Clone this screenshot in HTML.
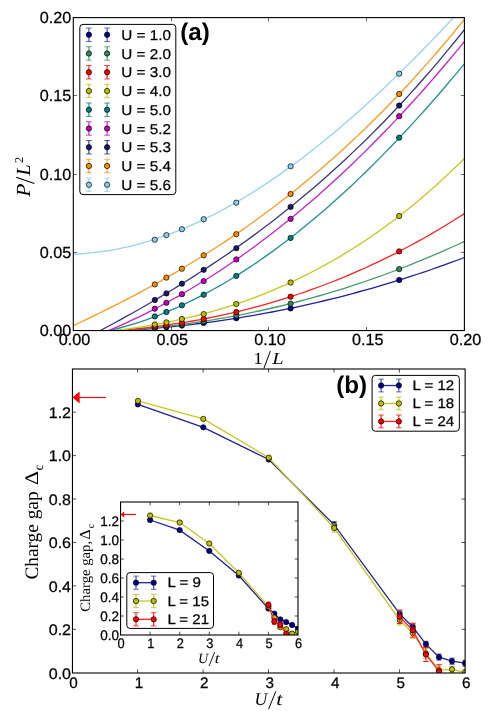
<!DOCTYPE html>
<html><head><meta charset="utf-8"><title>chart</title>
<style>html,body{margin:0;padding:0;background:#fff;}svg{display:block;position:absolute;left:0;top:0;will-change:transform;}</style></head>
<body>
<svg width="491" height="711" viewBox="0 0 491 711" text-rendering="geometricPrecision" font-family="'Liberation Sans', sans-serif" fill="#000">
<rect x="0" y="0" width="491" height="711" fill="#fff"/>
<defs>
<clipPath id="ct"><rect x="73.3" y="17.6" width="391.10" height="312.95"/></clipPath>
<clipPath id="cb"><rect x="72.45" y="369.0" width="392.68" height="304.00"/></clipPath>
<clipPath id="ci"><rect x="120.55" y="502.0" width="177.45" height="133.00"/></clipPath>
</defs>
<g clip-path="url(#ct)" fill="none" stroke-width="1.3">
<polyline points="73.3,332.7 79.9,332.6 86.6,332.4 93.2,332.1 99.8,331.9 106.4,331.6 113.1,331.2 119.7,330.9 126.3,330.5 133.0,330.0 139.6,329.5 146.2,329.0 152.8,328.5 159.5,327.9 166.1,327.2 172.7,326.6 179.4,325.9 186.0,325.1 192.6,324.3 199.2,323.5 205.9,322.7 212.5,321.8 219.1,320.8 225.8,319.9 232.4,318.9 239.0,317.8 245.6,316.7 252.3,315.6 258.9,314.4 265.5,313.2 272.2,312.0 278.8,310.7 285.4,309.4 292.1,308.0 298.7,306.6 305.3,305.1 311.9,303.6 318.6,302.1 325.2,300.5 331.8,298.9 338.5,297.3 345.1,295.6 351.7,293.8 358.3,292.0 365.0,290.2 371.6,288.3 378.2,286.4 384.9,284.4 391.5,282.4 398.1,280.4 404.7,278.3 411.4,276.2 418.0,274.0 424.6,271.8 431.3,269.5 437.9,267.2 444.5,264.8 451.1,262.4 457.8,260.0 464.4,257.5" stroke="#21219a"/>
<polyline points="73.3,332.8 79.9,332.7 86.6,332.4 93.2,332.2 99.8,331.9 106.4,331.5 113.1,331.1 119.7,330.7 126.3,330.2 133.0,329.7 139.6,329.1 146.2,328.5 152.8,327.9 159.5,327.1 166.1,326.4 172.7,325.6 179.4,324.8 186.0,323.9 192.6,322.9 199.2,322.0 205.9,320.9 212.5,319.9 219.1,318.7 225.8,317.6 232.4,316.4 239.0,315.1 245.6,313.8 252.3,312.4 258.9,311.0 265.5,309.5 272.2,308.0 278.8,306.5 285.4,304.9 292.1,303.2 298.7,301.5 305.3,299.7 311.9,297.9 318.6,296.0 325.2,294.1 331.8,292.1 338.5,290.1 345.1,288.1 351.7,285.9 358.3,283.7 365.0,281.5 371.6,279.2 378.2,276.9 384.9,274.5 391.5,272.0 398.1,269.5 404.7,267.0 411.4,264.3 418.0,261.7 424.6,258.9 431.3,256.2 437.9,253.3 444.5,250.4 451.1,247.5 457.8,244.5 464.4,241.4" stroke="#499a6c"/>
<polyline points="73.3,333.1 79.9,332.9 86.6,332.6 93.2,332.3 99.8,331.9 106.4,331.4 113.1,331.0 119.7,330.4 126.3,329.8 133.0,329.2 139.6,328.5 146.2,327.8 152.8,327.0 159.5,326.1 166.1,325.2 172.7,324.2 179.4,323.2 186.0,322.1 192.6,321.0 199.2,319.8 205.9,318.5 212.5,317.2 219.1,315.8 225.8,314.4 232.4,312.9 239.0,311.3 245.6,309.6 252.3,307.9 258.9,306.2 265.5,304.3 272.2,302.4 278.8,300.4 285.4,298.4 292.1,296.2 298.7,294.0 305.3,291.8 311.9,289.4 318.6,287.0 325.2,284.5 331.8,282.0 338.5,279.3 345.1,276.6 351.7,273.8 358.3,270.9 365.0,268.0 371.6,264.9 378.2,261.8 384.9,258.6 391.5,255.3 398.1,252.0 404.7,248.5 411.4,245.0 418.0,241.4 424.6,237.7 431.3,233.9 437.9,230.0 444.5,226.0 451.1,222.0 457.8,217.8 464.4,213.6" stroke="#ff2121"/>
<polyline points="73.3,334.4 79.9,333.9 86.6,333.4 93.2,332.8 99.8,332.2 106.4,331.5 113.1,330.8 119.7,330.0 126.3,329.1 133.0,328.2 139.6,327.2 146.2,326.1 152.8,325.0 159.5,323.8 166.1,322.5 172.7,321.2 179.4,319.7 186.0,318.2 192.6,316.6 199.2,315.0 205.9,313.2 212.5,311.4 219.1,309.4 225.8,307.4 232.4,305.3 239.0,303.1 245.6,300.8 252.3,298.4 258.9,295.9 265.5,293.3 272.2,290.6 278.8,287.7 285.4,284.8 292.1,281.8 298.7,278.7 305.3,275.4 311.9,272.0 318.6,268.5 325.2,264.9 331.8,261.2 338.5,257.4 345.1,253.4 351.7,249.3 358.3,245.1 365.0,240.7 371.6,236.2 378.2,231.6 384.9,226.8 391.5,221.9 398.1,216.9 404.7,211.7 411.4,206.4 418.0,201.0 424.6,195.3 431.3,189.6 437.9,183.7 444.5,177.6 451.1,171.4 457.8,165.0 464.4,158.5" stroke="#c7c721"/>
<polyline points="73.3,337.0 79.9,336.1 86.6,335.1 93.2,334.0 99.8,332.7 106.4,331.3 113.1,329.7 119.7,328.0 126.3,326.2 133.0,324.2 139.6,322.1 146.2,319.8 152.8,317.4 159.5,314.9 166.1,312.2 172.7,309.4 179.4,306.5 186.0,303.4 192.6,300.2 199.2,296.9 205.9,293.4 212.5,289.8 219.1,286.1 225.8,282.2 232.4,278.2 239.0,274.1 245.6,269.9 252.3,265.5 258.9,261.0 265.5,256.4 272.2,251.6 278.8,246.8 285.4,241.8 292.1,236.7 298.7,231.5 305.3,226.1 311.9,220.6 318.6,215.1 325.2,209.4 331.8,203.5 338.5,197.6 345.1,191.5 351.7,185.4 358.3,179.1 365.0,172.7 371.6,166.2 378.2,159.6 384.9,152.9 391.5,146.0 398.1,139.1 404.7,132.0 411.4,124.9 418.0,117.6 424.6,110.2 431.3,102.8 437.9,95.2 444.5,87.5 451.1,79.7 457.8,71.8 464.4,63.8" stroke="#219090"/>
<polyline points="73.3,344.2 79.9,341.9 86.6,339.4 93.2,336.9 99.8,334.3 106.4,331.5 113.1,328.7 119.7,325.8 126.3,322.8 133.0,319.7 139.6,316.6 146.2,313.3 152.8,309.9 159.5,306.5 166.1,302.9 172.7,299.3 179.4,295.6 186.0,291.7 192.6,287.8 199.2,283.8 205.9,279.7 212.5,275.5 219.1,271.2 225.8,266.8 232.4,262.3 239.0,257.7 245.6,253.0 252.3,248.2 258.9,243.3 265.5,238.3 272.2,233.2 278.8,228.1 285.4,222.8 292.1,217.4 298.7,211.9 305.3,206.3 311.9,200.7 318.6,194.9 325.2,189.0 331.8,183.0 338.5,176.9 345.1,170.8 351.7,164.5 358.3,158.1 365.0,151.6 371.6,145.0 378.2,138.3 384.9,131.5 391.5,124.6 398.1,117.6 404.7,110.5 411.4,103.2 418.0,95.9 424.6,88.5 431.3,80.9 437.9,73.3 444.5,65.5 451.1,57.7 457.8,49.7 464.4,41.6" stroke="#c721c7"/>
<polyline points="73.3,344.7 79.9,341.3 86.6,337.8 93.2,334.3 99.8,330.8 106.4,327.3 113.1,323.7 119.7,320.1 126.3,316.4 133.0,312.7 139.6,309.0 146.2,305.2 152.8,301.3 159.5,297.4 166.1,293.5 172.7,289.5 179.4,285.4 186.0,281.3 192.6,277.1 199.2,272.8 205.9,268.5 212.5,264.1 219.1,259.7 225.8,255.2 232.4,250.6 239.0,245.9 245.6,241.2 252.3,236.4 258.9,231.5 265.5,226.5 272.2,221.4 278.8,216.3 285.4,211.0 292.1,205.7 298.7,200.3 305.3,194.8 311.9,189.2 318.6,183.5 325.2,177.7 331.8,171.8 338.5,165.8 345.1,159.7 351.7,153.4 358.3,147.1 365.0,140.7 371.6,134.1 378.2,127.5 384.9,120.7 391.5,113.8 398.1,106.8 404.7,99.7 411.4,92.4 418.0,85.0 424.6,77.5 431.3,69.9 437.9,62.1 444.5,54.2 451.1,46.1 457.8,38.0 464.4,29.6" stroke="#363682"/>
<polyline points="73.3,325.6 79.9,322.5 86.6,319.4 93.2,316.2 99.8,313.0 106.4,309.7 113.1,306.4 119.7,303.0 126.3,299.6 133.0,296.1 139.6,292.6 146.2,289.0 152.8,285.4 159.5,281.7 166.1,277.9 172.7,274.1 179.4,270.2 186.0,266.3 192.6,262.3 199.2,258.2 205.9,254.0 212.5,249.8 219.1,245.5 225.8,241.1 232.4,236.6 239.0,232.1 245.6,227.5 252.3,222.8 258.9,218.0 265.5,213.1 272.2,208.2 278.8,203.1 285.4,198.0 292.1,192.8 298.7,187.4 305.3,182.0 311.9,176.5 318.6,170.9 325.2,165.2 331.8,159.4 338.5,153.4 345.1,147.4 351.7,141.3 358.3,135.1 365.0,128.7 371.6,122.3 378.2,115.7 384.9,109.0 391.5,102.2 398.1,95.3 404.7,88.3 411.4,81.1 418.0,73.8 424.6,66.4 431.3,58.9 437.9,51.3 444.5,43.5 451.1,35.6 457.8,27.5 464.4,19.3" stroke="#ff9a21"/>
<polyline points="73.3,254.2 79.9,253.8 86.6,253.4 93.2,252.7 99.8,251.9 106.4,251.0 113.1,249.9 119.7,248.6 126.3,247.2 133.0,245.6 139.6,243.8 146.2,242.0 152.8,239.9 159.5,237.7 166.1,235.4 172.7,232.9 179.4,230.3 186.0,227.6 192.6,224.7 199.2,221.6 205.9,218.5 212.5,215.2 219.1,211.7 225.8,208.1 232.4,204.5 239.0,200.6 245.6,196.7 252.3,192.6 258.9,188.4 265.5,184.1 272.2,179.6 278.8,175.1 285.4,170.4 292.1,165.6 298.7,160.7 305.3,155.7 311.9,150.5 318.6,145.3 325.2,140.0 331.8,134.5 338.5,128.9 345.1,123.3 351.7,117.5 358.3,111.7 365.0,105.7 371.6,99.7 378.2,93.5 384.9,87.3 391.5,80.9 398.1,74.5 404.7,68.0 411.4,61.4 418.0,54.7 424.6,48.0 431.3,41.1 437.9,34.2 444.5,27.2 451.1,20.1 457.8,13.0 464.4,5.8" stroke="#96d4ed"/>
</g>
<g stroke="#000" stroke-width="0.7">
<circle cx="154.8" cy="328.2" r="2.65" fill="#00008b"/>
<circle cx="166.4" cy="327.3" r="2.65" fill="#00008b"/>
<circle cx="181.9" cy="325.6" r="2.65" fill="#00008b"/>
<circle cx="203.7" cy="322.9" r="2.65" fill="#00008b"/>
<circle cx="236.3" cy="318.2" r="2.65" fill="#00008b"/>
<circle cx="290.6" cy="308.4" r="2.65" fill="#00008b"/>
<circle cx="399.2" cy="280.0" r="2.65" fill="#00008b"/>
<circle cx="154.8" cy="327.6" r="2.65" fill="#2e8b57"/>
<circle cx="166.4" cy="326.3" r="2.65" fill="#2e8b57"/>
<circle cx="181.9" cy="324.5" r="2.65" fill="#2e8b57"/>
<circle cx="203.7" cy="321.4" r="2.65" fill="#2e8b57"/>
<circle cx="236.3" cy="315.5" r="2.65" fill="#2e8b57"/>
<circle cx="290.6" cy="303.6" r="2.65" fill="#2e8b57"/>
<circle cx="399.2" cy="269.1" r="2.65" fill="#2e8b57"/>
<circle cx="154.8" cy="326.6" r="2.65" fill="#ff0000"/>
<circle cx="166.4" cy="325.2" r="2.65" fill="#ff0000"/>
<circle cx="181.9" cy="322.8" r="2.65" fill="#ff0000"/>
<circle cx="203.7" cy="319.0" r="2.65" fill="#ff0000"/>
<circle cx="236.3" cy="312.0" r="2.65" fill="#ff0000"/>
<circle cx="290.6" cy="296.7" r="2.65" fill="#ff0000"/>
<circle cx="399.2" cy="251.4" r="2.65" fill="#ff0000"/>
<circle cx="154.8" cy="324.5" r="2.65" fill="#bfbf00"/>
<circle cx="166.4" cy="322.4" r="2.65" fill="#bfbf00"/>
<circle cx="181.9" cy="319.0" r="2.65" fill="#bfbf00"/>
<circle cx="203.7" cy="314.1" r="2.65" fill="#bfbf00"/>
<circle cx="236.3" cy="304.0" r="2.65" fill="#bfbf00"/>
<circle cx="290.6" cy="282.5" r="2.65" fill="#bfbf00"/>
<circle cx="399.2" cy="216.0" r="2.65" fill="#bfbf00"/>
<circle cx="154.8" cy="316.4" r="2.65" fill="#008080"/>
<circle cx="166.4" cy="312.0" r="2.65" fill="#008080"/>
<circle cx="181.9" cy="305.3" r="2.65" fill="#008080"/>
<circle cx="203.7" cy="294.7" r="2.65" fill="#008080"/>
<circle cx="236.3" cy="275.9" r="2.65" fill="#008080"/>
<circle cx="290.6" cy="238.0" r="2.65" fill="#008080"/>
<circle cx="399.2" cy="137.7" r="2.65" fill="#008080"/>
<circle cx="154.8" cy="308.7" r="2.65" fill="#bf00bf"/>
<circle cx="166.4" cy="302.8" r="2.65" fill="#bf00bf"/>
<circle cx="181.9" cy="294.2" r="2.65" fill="#bf00bf"/>
<circle cx="203.7" cy="281.1" r="2.65" fill="#bf00bf"/>
<circle cx="236.3" cy="259.4" r="2.65" fill="#bf00bf"/>
<circle cx="290.6" cy="218.9" r="2.65" fill="#bf00bf"/>
<circle cx="399.2" cy="116.2" r="2.65" fill="#bf00bf"/>
<circle cx="154.8" cy="300.0" r="2.65" fill="#191970"/>
<circle cx="166.4" cy="293.4" r="2.65" fill="#191970"/>
<circle cx="181.9" cy="283.7" r="2.65" fill="#191970"/>
<circle cx="203.7" cy="269.8" r="2.65" fill="#191970"/>
<circle cx="236.3" cy="248.2" r="2.65" fill="#191970"/>
<circle cx="290.6" cy="206.9" r="2.65" fill="#191970"/>
<circle cx="399.2" cy="105.5" r="2.65" fill="#191970"/>
<circle cx="154.8" cy="284.4" r="2.65" fill="#ff8c00"/>
<circle cx="166.4" cy="277.6" r="2.65" fill="#ff8c00"/>
<circle cx="181.9" cy="268.7" r="2.65" fill="#ff8c00"/>
<circle cx="203.7" cy="255.3" r="2.65" fill="#ff8c00"/>
<circle cx="236.3" cy="234.2" r="2.65" fill="#ff8c00"/>
<circle cx="290.6" cy="194.0" r="2.65" fill="#ff8c00"/>
<circle cx="399.2" cy="94.0" r="2.65" fill="#ff8c00"/>
<circle cx="154.8" cy="239.7" r="2.65" fill="#87ceeb"/>
<circle cx="166.4" cy="235.1" r="2.65" fill="#87ceeb"/>
<circle cx="181.9" cy="229.2" r="2.65" fill="#87ceeb"/>
<circle cx="203.7" cy="219.2" r="2.65" fill="#87ceeb"/>
<circle cx="236.3" cy="202.7" r="2.65" fill="#87ceeb"/>
<circle cx="290.6" cy="166.3" r="2.65" fill="#87ceeb"/>
<circle cx="399.2" cy="73.7" r="2.65" fill="#87ceeb"/>
</g>
<g stroke="#000" fill="none">
<path d="M171.50,330.55v-3.6M171.50,17.6v3.6M268.50,330.55v-3.6M268.50,17.6v3.6M366.50,330.55v-3.6M366.50,17.6v3.6M73.3,252.50h3.6M464.4,252.50h-3.6M73.3,174.50h3.6M464.4,174.50h-3.6M73.3,95.50h3.6M464.4,95.50h-3.6" stroke-width="0.6"/>
<rect x="73.3" y="17.6" width="391.10" height="312.95" stroke-width="1.1"/>
</g>
<text x="74.50" y="345.30" font-size="16.0" text-anchor="middle" textLength="31.55" lengthAdjust="spacingAndGlyphs" stroke="#000" stroke-width="0.25">0.00</text>
<text x="71.30" y="336.10" font-size="16.0" text-anchor="end" textLength="31.55" lengthAdjust="spacingAndGlyphs" stroke="#000" stroke-width="0.25">0.00</text>
<text x="172.27" y="345.30" font-size="16.0" text-anchor="middle" textLength="31.55" lengthAdjust="spacingAndGlyphs" stroke="#000" stroke-width="0.25">0.05</text>
<text x="71.30" y="257.86" font-size="16.0" text-anchor="end" textLength="31.55" lengthAdjust="spacingAndGlyphs" stroke="#000" stroke-width="0.25">0.05</text>
<text x="270.05" y="345.30" font-size="16.0" text-anchor="middle" textLength="31.55" lengthAdjust="spacingAndGlyphs" stroke="#000" stroke-width="0.25">0.10</text>
<text x="71.30" y="179.63" font-size="16.0" text-anchor="end" textLength="31.55" lengthAdjust="spacingAndGlyphs" stroke="#000" stroke-width="0.25">0.10</text>
<text x="367.82" y="345.30" font-size="16.0" text-anchor="middle" textLength="31.55" lengthAdjust="spacingAndGlyphs" stroke="#000" stroke-width="0.25">0.15</text>
<text x="71.30" y="101.39" font-size="16.0" text-anchor="end" textLength="31.55" lengthAdjust="spacingAndGlyphs" stroke="#000" stroke-width="0.25">0.15</text>
<text x="465.60" y="345.30" font-size="16.0" text-anchor="middle" textLength="31.55" lengthAdjust="spacingAndGlyphs" stroke="#000" stroke-width="0.25">0.20</text>
<text x="71.30" y="23.15" font-size="16.0" text-anchor="end" textLength="31.55" lengthAdjust="spacingAndGlyphs" stroke="#000" stroke-width="0.25">0.20</text>
<rect x="79.8" y="24.4" width="96.00" height="170.20" rx="3.2" ry="3.2" fill="#fff" stroke="#000" stroke-width="1"/>
<path d="M88.9,28.05V41.45" stroke="#4040c4" stroke-width="1.1" fill="none"/><path d="M86.05,28.05h5.7M86.05,41.45h5.7" stroke="#4040c4" stroke-width="0.8" fill="none"/>
<circle cx="88.9" cy="34.75" r="2.65" fill="#00008b" stroke="#000" stroke-width="0.7"/>
<path d="M107.1,28.05V41.45" stroke="#4040c4" stroke-width="1.1" fill="none"/><path d="M104.25,28.05h5.7M104.25,41.45h5.7" stroke="#4040c4" stroke-width="0.8" fill="none"/>
<circle cx="107.1" cy="34.75" r="2.65" fill="#00008b" stroke="#000" stroke-width="0.7"/>
<text x="121.30" y="39.95" font-size="14.2" text-anchor="start" textLength="49.63" lengthAdjust="spacingAndGlyphs" stroke="#000" stroke-width="0.25">U = 1.0</text>
<path d="M88.9,46.80V60.20" stroke="#3e9464" stroke-width="1.1" fill="none"/><path d="M86.05,46.80h5.7M86.05,60.20h5.7" stroke="#3e9464" stroke-width="0.8" fill="none"/>
<circle cx="88.9" cy="53.50" r="2.65" fill="#2e8b57" stroke="#000" stroke-width="0.7"/>
<path d="M107.1,46.80V60.20" stroke="#3e9464" stroke-width="1.1" fill="none"/><path d="M104.25,46.80h5.7M104.25,60.20h5.7" stroke="#3e9464" stroke-width="0.8" fill="none"/>
<circle cx="107.1" cy="53.50" r="2.65" fill="#2e8b57" stroke="#000" stroke-width="0.7"/>
<text x="121.30" y="58.70" font-size="14.2" text-anchor="start" textLength="49.63" lengthAdjust="spacingAndGlyphs" stroke="#000" stroke-width="0.25">U = 2.0</text>
<path d="M88.9,65.55V78.95" stroke="#ff1414" stroke-width="1.1" fill="none"/><path d="M86.05,65.55h5.7M86.05,78.95h5.7" stroke="#ff1414" stroke-width="0.8" fill="none"/>
<circle cx="88.9" cy="72.25" r="2.65" fill="#ff0000" stroke="#000" stroke-width="0.7"/>
<path d="M107.1,65.55V78.95" stroke="#ff1414" stroke-width="1.1" fill="none"/><path d="M104.25,65.55h5.7M104.25,78.95h5.7" stroke="#ff1414" stroke-width="0.8" fill="none"/>
<circle cx="107.1" cy="72.25" r="2.65" fill="#ff0000" stroke="#000" stroke-width="0.7"/>
<text x="121.30" y="77.45" font-size="14.2" text-anchor="start" textLength="49.63" lengthAdjust="spacingAndGlyphs" stroke="#000" stroke-width="0.25">U = 3.0</text>
<path d="M88.9,84.30V97.70" stroke="#c4c414" stroke-width="1.1" fill="none"/><path d="M86.05,84.30h5.7M86.05,97.70h5.7" stroke="#c4c414" stroke-width="0.8" fill="none"/>
<circle cx="88.9" cy="91.00" r="2.65" fill="#bfbf00" stroke="#000" stroke-width="0.7"/>
<path d="M107.1,84.30V97.70" stroke="#c4c414" stroke-width="1.1" fill="none"/><path d="M104.25,84.30h5.7M104.25,97.70h5.7" stroke="#c4c414" stroke-width="0.8" fill="none"/>
<circle cx="107.1" cy="91.00" r="2.65" fill="#bfbf00" stroke="#000" stroke-width="0.7"/>
<text x="121.30" y="96.20" font-size="14.2" text-anchor="start" textLength="49.63" lengthAdjust="spacingAndGlyphs" stroke="#000" stroke-width="0.25">U = 4.0</text>
<path d="M88.9,103.05V116.45" stroke="#148a8a" stroke-width="1.1" fill="none"/><path d="M86.05,103.05h5.7M86.05,116.45h5.7" stroke="#148a8a" stroke-width="0.8" fill="none"/>
<circle cx="88.9" cy="109.75" r="2.65" fill="#008080" stroke="#000" stroke-width="0.7"/>
<path d="M107.1,103.05V116.45" stroke="#148a8a" stroke-width="1.1" fill="none"/><path d="M104.25,103.05h5.7M104.25,116.45h5.7" stroke="#148a8a" stroke-width="0.8" fill="none"/>
<circle cx="107.1" cy="109.75" r="2.65" fill="#008080" stroke="#000" stroke-width="0.7"/>
<text x="121.30" y="114.95" font-size="14.2" text-anchor="start" textLength="49.63" lengthAdjust="spacingAndGlyphs" stroke="#000" stroke-width="0.25">U = 5.0</text>
<path d="M88.9,121.80V135.20" stroke="#c414c4" stroke-width="1.1" fill="none"/><path d="M86.05,121.80h5.7M86.05,135.20h5.7" stroke="#c414c4" stroke-width="0.8" fill="none"/>
<circle cx="88.9" cy="128.50" r="2.65" fill="#bf00bf" stroke="#000" stroke-width="0.7"/>
<path d="M107.1,121.80V135.20" stroke="#c414c4" stroke-width="1.1" fill="none"/><path d="M104.25,121.80h5.7M104.25,135.20h5.7" stroke="#c414c4" stroke-width="0.8" fill="none"/>
<circle cx="107.1" cy="128.50" r="2.65" fill="#bf00bf" stroke="#000" stroke-width="0.7"/>
<text x="121.30" y="133.70" font-size="14.2" text-anchor="start" textLength="49.63" lengthAdjust="spacingAndGlyphs" stroke="#000" stroke-width="0.25">U = 5.2</text>
<path d="M88.9,140.55V153.95" stroke="#2b2b7b" stroke-width="1.1" fill="none"/><path d="M86.05,140.55h5.7M86.05,153.95h5.7" stroke="#2b2b7b" stroke-width="0.8" fill="none"/>
<circle cx="88.9" cy="147.25" r="2.65" fill="#191970" stroke="#000" stroke-width="0.7"/>
<path d="M107.1,140.55V153.95" stroke="#2b2b7b" stroke-width="1.1" fill="none"/><path d="M104.25,140.55h5.7M104.25,153.95h5.7" stroke="#2b2b7b" stroke-width="0.8" fill="none"/>
<circle cx="107.1" cy="147.25" r="2.65" fill="#191970" stroke="#000" stroke-width="0.7"/>
<text x="121.30" y="152.45" font-size="14.2" text-anchor="start" textLength="49.63" lengthAdjust="spacingAndGlyphs" stroke="#000" stroke-width="0.25">U = 5.3</text>
<path d="M88.9,159.30V172.70" stroke="#ff9514" stroke-width="1.1" fill="none"/><path d="M86.05,159.30h5.7M86.05,172.70h5.7" stroke="#ff9514" stroke-width="0.8" fill="none"/>
<circle cx="88.9" cy="166.00" r="2.65" fill="#ff8c00" stroke="#000" stroke-width="0.7"/>
<path d="M107.1,159.30V172.70" stroke="#ff9514" stroke-width="1.1" fill="none"/><path d="M104.25,159.30h5.7M104.25,172.70h5.7" stroke="#ff9514" stroke-width="0.8" fill="none"/>
<circle cx="107.1" cy="166.00" r="2.65" fill="#ff8c00" stroke="#000" stroke-width="0.7"/>
<text x="121.30" y="171.20" font-size="14.2" text-anchor="start" textLength="49.63" lengthAdjust="spacingAndGlyphs" stroke="#000" stroke-width="0.25">U = 5.4</text>
<path d="M88.9,178.05V191.45" stroke="#90d1ec" stroke-width="1.1" fill="none"/><path d="M86.05,178.05h5.7M86.05,191.45h5.7" stroke="#90d1ec" stroke-width="0.8" fill="none"/>
<circle cx="88.9" cy="184.75" r="2.65" fill="#87ceeb" stroke="#000" stroke-width="0.7"/>
<path d="M107.1,178.05V191.45" stroke="#90d1ec" stroke-width="1.1" fill="none"/><path d="M104.25,178.05h5.7M104.25,191.45h5.7" stroke="#90d1ec" stroke-width="0.8" fill="none"/>
<circle cx="107.1" cy="184.75" r="2.65" fill="#87ceeb" stroke="#000" stroke-width="0.7"/>
<text x="121.30" y="189.95" font-size="14.2" text-anchor="start" textLength="49.63" lengthAdjust="spacingAndGlyphs" stroke="#000" stroke-width="0.25">U = 5.6</text>
<text x="180.15" y="40.4" font-size="24.2" font-weight="bold">(a)</text>
<g transform="translate(30.3,176.5) rotate(-90)" font-family="'Liberation Serif', serif" font-style="italic">
<text x="-20.3" y="0" font-size="20" textLength="13.2" lengthAdjust="spacingAndGlyphs">P</text>
<path d="M-6.9,4.0L-0.8,-14.1" stroke="#000" stroke-width="1.1" fill="none"/>
<text x="1.0" y="0" font-size="20">L</text>
<text x="13.4" y="-7.8" font-size="12.2" font-style="normal">2</text>
</g>
<g font-family="'Liberation Serif', serif">
<text x="253.2" y="363.5" font-size="17" textLength="9.6" lengthAdjust="spacingAndGlyphs">1</text>
<path d="M263.9,368.4L270.4,350.9" stroke="#000" stroke-width="1.0" fill="none"/>
<text x="272.2" y="363.5" font-size="17" font-style="italic" textLength="11.4" lengthAdjust="spacingAndGlyphs">L</text>
</g>
<g clip-path="url(#cb)">
<polyline points="137.9,404.4 203.3,427.3 268.8,459.5 334.2,524.9 399.7,613.9 412.8,627.0 425.9,644.1 439.0,657.1 452.0,661.2 465.1,663.2" fill="none" stroke="#21219a" stroke-width="1.3"/>
<path d="M334.2,521.7V528.1M331.5,521.7h5.4M331.5,528.1h5.4M399.7,610.9V616.9M397.0,610.9h5.4M397.0,616.9h5.4M412.8,624.0V630.0M410.1,624.0h5.4M410.1,630.0h5.4M425.9,641.3V646.9M423.2,641.3h5.4M423.2,646.9h5.4M439.0,654.1V660.1M436.3,654.1h5.4M436.3,660.1h5.4M452.0,658.2V664.2M449.3,658.2h5.4M449.3,664.2h5.4M465.1,660.2V666.2M462.4,660.2h5.4M462.4,666.2h5.4" stroke="#4040c4" stroke-width="1" fill="none"/>
<circle cx="137.9" cy="404.4" r="2.65" fill="#00008b" stroke="#000" stroke-width="0.7"/>
<circle cx="203.3" cy="427.3" r="2.65" fill="#00008b" stroke="#000" stroke-width="0.7"/>
<circle cx="268.8" cy="459.5" r="2.65" fill="#00008b" stroke="#000" stroke-width="0.7"/>
<circle cx="334.2" cy="524.9" r="2.65" fill="#00008b" stroke="#000" stroke-width="0.7"/>
<circle cx="399.7" cy="613.9" r="2.65" fill="#00008b" stroke="#000" stroke-width="0.7"/>
<circle cx="412.8" cy="627.0" r="2.65" fill="#00008b" stroke="#000" stroke-width="0.7"/>
<circle cx="425.9" cy="644.1" r="2.65" fill="#00008b" stroke="#000" stroke-width="0.7"/>
<circle cx="439.0" cy="657.1" r="2.65" fill="#00008b" stroke="#000" stroke-width="0.7"/>
<circle cx="452.0" cy="661.2" r="2.65" fill="#00008b" stroke="#000" stroke-width="0.7"/>
<circle cx="465.1" cy="663.2" r="2.65" fill="#00008b" stroke="#000" stroke-width="0.7"/>
</g>
<g clip-path="url(#cb)">
<polyline points="137.9,400.9 203.3,418.9 268.8,457.7 334.2,528.0 399.7,620.0 412.8,633.1 425.9,653.4 439.0,670.2 452.0,669.3 465.1,672.3" fill="none" stroke="#c7c721" stroke-width="1.3"/>
<path d="M334.2,524.0V532.0M331.5,524.0h5.4M331.5,532.0h5.4M399.7,615.0V625.0M397.0,615.0h5.4M397.0,625.0h5.4M412.8,628.1V638.1M410.1,628.1h5.4M410.1,638.1h5.4M425.9,648.4V658.4M423.2,648.4h5.4M423.2,658.4h5.4M439.0,666.2V674.2M436.3,666.2h5.4M436.3,674.2h5.4M452.0,666.3V672.3M449.3,666.3h5.4M449.3,672.3h5.4M465.1,669.3V675.3M462.4,669.3h5.4M462.4,675.3h5.4" stroke="#c4c414" stroke-width="1" fill="none"/>
<circle cx="137.9" cy="400.9" r="2.65" fill="#bfbf00" stroke="#000" stroke-width="0.7"/>
<circle cx="203.3" cy="418.9" r="2.65" fill="#bfbf00" stroke="#000" stroke-width="0.7"/>
<circle cx="268.8" cy="457.7" r="2.65" fill="#bfbf00" stroke="#000" stroke-width="0.7"/>
<circle cx="334.2" cy="528.0" r="2.65" fill="#bfbf00" stroke="#000" stroke-width="0.7"/>
<circle cx="399.7" cy="620.0" r="2.65" fill="#bfbf00" stroke="#000" stroke-width="0.7"/>
<circle cx="412.8" cy="633.1" r="2.65" fill="#bfbf00" stroke="#000" stroke-width="0.7"/>
<circle cx="425.9" cy="653.4" r="2.65" fill="#bfbf00" stroke="#000" stroke-width="0.7"/>
<circle cx="439.0" cy="670.2" r="2.65" fill="#bfbf00" stroke="#000" stroke-width="0.7"/>
<circle cx="452.0" cy="669.3" r="2.65" fill="#bfbf00" stroke="#000" stroke-width="0.7"/>
<circle cx="465.1" cy="672.3" r="2.65" fill="#bfbf00" stroke="#000" stroke-width="0.7"/>
</g>
<g clip-path="url(#cb)">
<polyline points="399.7,616.8 412.8,630.2 425.9,654.5 439.0,671.4" fill="none" stroke="#ff2121" stroke-width="1.3"/>
<path d="M399.7,610.0V623.5M397.0,610.0h5.4M397.0,623.5h5.4M412.8,623.2V637.2M410.1,623.2h5.4M410.1,637.2h5.4M425.9,647.5V661.5M423.2,647.5h5.4M423.2,661.5h5.4M439.0,664.7V678.1M436.3,664.7h5.4M436.3,678.1h5.4" stroke="#ff1414" stroke-width="1" fill="none"/>
<circle cx="399.7" cy="616.8" r="2.65" fill="#ff0000" stroke="#000" stroke-width="0.7"/>
<circle cx="412.8" cy="630.2" r="2.65" fill="#ff0000" stroke="#000" stroke-width="0.7"/>
<circle cx="425.9" cy="654.5" r="2.65" fill="#ff0000" stroke="#000" stroke-width="0.7"/>
<circle cx="439.0" cy="671.4" r="2.65" fill="#ff0000" stroke="#000" stroke-width="0.7"/>
</g>
<g stroke="#000" fill="none">
<path d="M137.65,673.0v-3.6M137.65,369.0v3.6M203.09,673.0v-3.6M203.09,369.0v3.6M268.54,673.0v-3.6M268.54,369.0v3.6M333.99,673.0v-3.6M333.99,369.0v3.6M399.43,673.0v-3.6M399.43,369.0v3.6M72.45,629.32h3.6M465.13,629.32h-3.6M72.45,585.89h3.6M465.13,585.89h-3.6M72.45,542.46h3.6M465.13,542.46h-3.6M72.45,499.04h3.6M465.13,499.04h-3.6M72.45,455.61h3.6M465.13,455.61h-3.6M72.45,412.18h3.6M465.13,412.18h-3.6" stroke-width="0.7"/>
<rect x="72.45" y="369.0" width="392.68" height="304.00" stroke-width="1.1"/>
</g>
<text x="73.45" y="687.60" font-size="15.3" text-anchor="middle" textLength="8.50" lengthAdjust="spacingAndGlyphs" stroke="#000" stroke-width="0.25">0</text>
<text x="138.90" y="687.60" font-size="15.3" text-anchor="middle" textLength="8.50" lengthAdjust="spacingAndGlyphs" stroke="#000" stroke-width="0.25">1</text>
<text x="204.34" y="687.60" font-size="15.3" text-anchor="middle" textLength="8.50" lengthAdjust="spacingAndGlyphs" stroke="#000" stroke-width="0.25">2</text>
<text x="269.79" y="687.60" font-size="15.3" text-anchor="middle" textLength="8.50" lengthAdjust="spacingAndGlyphs" stroke="#000" stroke-width="0.25">3</text>
<text x="335.24" y="687.60" font-size="15.3" text-anchor="middle" textLength="8.50" lengthAdjust="spacingAndGlyphs" stroke="#000" stroke-width="0.25">4</text>
<text x="400.68" y="687.60" font-size="15.3" text-anchor="middle" textLength="8.50" lengthAdjust="spacingAndGlyphs" stroke="#000" stroke-width="0.25">5</text>
<text x="466.13" y="687.60" font-size="15.3" text-anchor="middle" textLength="8.50" lengthAdjust="spacingAndGlyphs" stroke="#000" stroke-width="0.25">6</text>
<text x="71.05" y="678.50" font-size="15.3" text-anchor="end" textLength="22.33" lengthAdjust="spacingAndGlyphs" stroke="#000" stroke-width="0.25">0.0</text>
<text x="71.05" y="635.07" font-size="15.3" text-anchor="end" textLength="22.33" lengthAdjust="spacingAndGlyphs" stroke="#000" stroke-width="0.25">0.2</text>
<text x="71.05" y="591.64" font-size="15.3" text-anchor="end" textLength="22.33" lengthAdjust="spacingAndGlyphs" stroke="#000" stroke-width="0.25">0.4</text>
<text x="71.05" y="548.21" font-size="15.3" text-anchor="end" textLength="22.33" lengthAdjust="spacingAndGlyphs" stroke="#000" stroke-width="0.25">0.6</text>
<text x="71.05" y="504.79" font-size="15.3" text-anchor="end" textLength="22.33" lengthAdjust="spacingAndGlyphs" stroke="#000" stroke-width="0.25">0.8</text>
<text x="71.05" y="461.36" font-size="15.3" text-anchor="end" textLength="22.33" lengthAdjust="spacingAndGlyphs" stroke="#000" stroke-width="0.25">1.0</text>
<text x="71.05" y="417.93" font-size="15.3" text-anchor="end" textLength="22.33" lengthAdjust="spacingAndGlyphs" stroke="#000" stroke-width="0.25">1.2</text>
<path d="M72.45,397.5 L79.6,391.6 L79.6,403.4 Z" fill="#ff0000"/>
<path d="M79,397.5H105.8" stroke="#ff0000" stroke-width="1.2"/>
<rect x="372.1" y="375.4" width="87.25" height="55.80" rx="3.2" ry="3.2" fill="#fff" stroke="#000" stroke-width="1"/>
<path d="M381.1,385.50H398.85" stroke="#21219a" stroke-width="1.3" fill="none"/>
<path d="M381.1,379.10V391.90" stroke="#4040c4" stroke-width="1.1" fill="none"/><path d="M378.35,379.10h5.5M378.35,391.90h5.5" stroke="#4040c4" stroke-width="0.8" fill="none"/>
<circle cx="381.1" cy="385.50" r="2.65" fill="#00008b" stroke="#000" stroke-width="0.7"/>
<path d="M398.85,379.10V391.90" stroke="#4040c4" stroke-width="1.1" fill="none"/><path d="M396.10,379.10h5.5M396.10,391.90h5.5" stroke="#4040c4" stroke-width="0.8" fill="none"/>
<circle cx="398.85" cy="385.50" r="2.65" fill="#00008b" stroke="#000" stroke-width="0.7"/>
<text x="412.50" y="390.10" font-size="13.8" text-anchor="start" textLength="41.64" lengthAdjust="spacingAndGlyphs" stroke="#000" stroke-width="0.25">L = 12</text>
<path d="M381.1,403.46H398.85" stroke="#c7c721" stroke-width="1.3" fill="none"/>
<path d="M381.1,397.06V409.86" stroke="#c4c414" stroke-width="1.1" fill="none"/><path d="M378.35,397.06h5.5M378.35,409.86h5.5" stroke="#c4c414" stroke-width="0.8" fill="none"/>
<circle cx="381.1" cy="403.46" r="2.65" fill="#bfbf00" stroke="#000" stroke-width="0.7"/>
<path d="M398.85,397.06V409.86" stroke="#c4c414" stroke-width="1.1" fill="none"/><path d="M396.10,397.06h5.5M396.10,409.86h5.5" stroke="#c4c414" stroke-width="0.8" fill="none"/>
<circle cx="398.85" cy="403.46" r="2.65" fill="#bfbf00" stroke="#000" stroke-width="0.7"/>
<text x="412.50" y="408.06" font-size="13.8" text-anchor="start" textLength="41.64" lengthAdjust="spacingAndGlyphs" stroke="#000" stroke-width="0.25">L = 18</text>
<path d="M381.1,421.42H398.85" stroke="#ff2121" stroke-width="1.3" fill="none"/>
<path d="M381.1,415.02V427.82" stroke="#ff1414" stroke-width="1.1" fill="none"/><path d="M378.35,415.02h5.5M378.35,427.82h5.5" stroke="#ff1414" stroke-width="0.8" fill="none"/>
<circle cx="381.1" cy="421.42" r="2.65" fill="#ff0000" stroke="#000" stroke-width="0.7"/>
<path d="M398.85,415.02V427.82" stroke="#ff1414" stroke-width="1.1" fill="none"/><path d="M396.10,415.02h5.5M396.10,427.82h5.5" stroke="#ff1414" stroke-width="0.8" fill="none"/>
<circle cx="398.85" cy="421.42" r="2.65" fill="#ff0000" stroke="#000" stroke-width="0.7"/>
<text x="412.50" y="426.02" font-size="13.8" text-anchor="start" textLength="41.64" lengthAdjust="spacingAndGlyphs" stroke="#000" stroke-width="0.25">L = 24</text>
<text x="336.15" y="392.7" font-size="24.2" font-weight="bold">(b)</text>
<g transform="translate(38.1,521) rotate(-90)" font-family="'Liberation Serif', serif">
<text x="-58.6" y="0" font-size="19" textLength="88.2" lengthAdjust="spacingAndGlyphs">Charge gap</text>
<text x="36" y="0" font-size="19" textLength="14" lengthAdjust="spacingAndGlyphs">Δ</text>
<text x="50.4" y="4.6" font-size="13.4">c</text>
</g>
<g font-family="'Liberation Serif', serif" font-style="italic">
<text x="254.4" y="705" font-size="18.1" textLength="12.8" lengthAdjust="spacingAndGlyphs">U</text>
<path d="M268.6,709.1L275.8,691.3" stroke="#000" stroke-width="1.0" fill="none"/>
<text x="276.3" y="705" font-size="18.1" textLength="6.2" lengthAdjust="spacingAndGlyphs">t</text>
</g>
<rect x="120.55" y="502.0" width="177.45" height="133.00" fill="#fff"/>
<g clip-path="url(#ci)">
<polyline points="150.1,520.0 179.7,530.1 209.3,550.9 238.8,575.5 268.4,608.6 274.3,613.6 280.3,619.4 286.2,622.1 292.1,625.0 298.0,628.6" fill="none" stroke="#21219a" stroke-width="1.3"/>
<circle cx="150.1" cy="520.0" r="2.65" fill="#00008b" stroke="#000" stroke-width="0.7"/>
<circle cx="179.7" cy="530.1" r="2.65" fill="#00008b" stroke="#000" stroke-width="0.7"/>
<circle cx="209.3" cy="550.9" r="2.65" fill="#00008b" stroke="#000" stroke-width="0.7"/>
<circle cx="238.8" cy="575.5" r="2.65" fill="#00008b" stroke="#000" stroke-width="0.7"/>
<circle cx="268.4" cy="608.6" r="2.65" fill="#00008b" stroke="#000" stroke-width="0.7"/>
<circle cx="274.3" cy="613.6" r="2.65" fill="#00008b" stroke="#000" stroke-width="0.7"/>
<circle cx="280.3" cy="619.4" r="2.65" fill="#00008b" stroke="#000" stroke-width="0.7"/>
<circle cx="286.2" cy="622.1" r="2.65" fill="#00008b" stroke="#000" stroke-width="0.7"/>
<circle cx="292.1" cy="625.0" r="2.65" fill="#00008b" stroke="#000" stroke-width="0.7"/>
<circle cx="298.0" cy="628.6" r="2.65" fill="#00008b" stroke="#000" stroke-width="0.7"/>
</g>
<g clip-path="url(#ci)">
<polyline points="150.1,515.5 179.7,522.5 209.3,543.5 238.8,572.8 268.4,606.5 274.3,617.6 280.3,627.2 286.2,629.2 292.1,633.7 298.0,631.8" fill="none" stroke="#c7c721" stroke-width="1.3"/>
<circle cx="150.1" cy="515.5" r="2.65" fill="#bfbf00" stroke="#000" stroke-width="0.7"/>
<circle cx="179.7" cy="522.5" r="2.65" fill="#bfbf00" stroke="#000" stroke-width="0.7"/>
<circle cx="209.3" cy="543.5" r="2.65" fill="#bfbf00" stroke="#000" stroke-width="0.7"/>
<circle cx="238.8" cy="572.8" r="2.65" fill="#bfbf00" stroke="#000" stroke-width="0.7"/>
<circle cx="268.4" cy="606.5" r="2.65" fill="#bfbf00" stroke="#000" stroke-width="0.7"/>
<circle cx="274.3" cy="617.6" r="2.65" fill="#bfbf00" stroke="#000" stroke-width="0.7"/>
<circle cx="280.3" cy="627.2" r="2.65" fill="#bfbf00" stroke="#000" stroke-width="0.7"/>
<circle cx="286.2" cy="629.2" r="2.65" fill="#bfbf00" stroke="#000" stroke-width="0.7"/>
<circle cx="292.1" cy="633.7" r="2.65" fill="#bfbf00" stroke="#000" stroke-width="0.7"/>
<circle cx="298.0" cy="631.8" r="2.65" fill="#bfbf00" stroke="#000" stroke-width="0.7"/>
</g>
<g clip-path="url(#ci)">
<polyline points="268.4,604.9 274.3,621.5 280.3,624.7 286.2,633.9" fill="none" stroke="#ff2121" stroke-width="1.3"/>
<path d="M268.4,602.1V607.7M266.2,602.1h4.4M266.2,607.7h4.4M274.3,618.7V624.3M272.1,618.7h4.4M272.1,624.3h4.4M280.3,621.9V627.5M278.1,621.9h4.4M278.1,627.5h4.4M286.2,631.1V636.7M284.0,631.1h4.4M284.0,636.7h4.4" stroke="#ff1414" stroke-width="1" fill="none"/>
<circle cx="268.4" cy="604.9" r="2.65" fill="#ff0000" stroke="#000" stroke-width="0.7"/>
<circle cx="274.3" cy="621.5" r="2.65" fill="#ff0000" stroke="#000" stroke-width="0.7"/>
<circle cx="280.3" cy="624.7" r="2.65" fill="#ff0000" stroke="#000" stroke-width="0.7"/>
<circle cx="286.2" cy="633.9" r="2.65" fill="#ff0000" stroke="#000" stroke-width="0.7"/>
</g>
<g stroke="#000" fill="none">
<path d="M150.12,635.0v-3.3M150.12,502.0v3.3M179.70,635.0v-3.3M179.70,502.0v3.3M209.27,635.0v-3.3M209.27,502.0v3.3M238.85,635.0v-3.3M238.85,502.0v3.3M268.43,635.0v-3.3M268.43,502.0v3.3M120.55,616.00h3.3M298.0,616.00h-3.3M120.55,597.00h3.3M298.0,597.00h-3.3M120.55,578.00h3.3M298.0,578.00h-3.3M120.55,559.00h3.3M298.0,559.00h-3.3M120.55,540.00h3.3M298.0,540.00h-3.3M120.55,521.00h3.3M298.0,521.00h-3.3" stroke-width="0.7"/>
<rect x="120.55" y="502.0" width="177.45" height="133.00" stroke-width="1.1"/>
</g>
<text x="121.15" y="647.70" font-size="13.8" text-anchor="middle" textLength="7.15" lengthAdjust="spacingAndGlyphs" stroke="#000" stroke-width="0.25">0</text>
<text x="150.72" y="647.70" font-size="13.8" text-anchor="middle" textLength="7.15" lengthAdjust="spacingAndGlyphs" stroke="#000" stroke-width="0.25">1</text>
<text x="180.30" y="647.70" font-size="13.8" text-anchor="middle" textLength="7.15" lengthAdjust="spacingAndGlyphs" stroke="#000" stroke-width="0.25">2</text>
<text x="209.87" y="647.70" font-size="13.8" text-anchor="middle" textLength="7.15" lengthAdjust="spacingAndGlyphs" stroke="#000" stroke-width="0.25">3</text>
<text x="239.45" y="647.70" font-size="13.8" text-anchor="middle" textLength="7.15" lengthAdjust="spacingAndGlyphs" stroke="#000" stroke-width="0.25">4</text>
<text x="269.03" y="647.70" font-size="13.8" text-anchor="middle" textLength="7.15" lengthAdjust="spacingAndGlyphs" stroke="#000" stroke-width="0.25">5</text>
<text x="298.60" y="647.70" font-size="13.8" text-anchor="middle" textLength="7.15" lengthAdjust="spacingAndGlyphs" stroke="#000" stroke-width="0.25">6</text>
<text x="119.05" y="639.90" font-size="13.8" text-anchor="end" textLength="18.79" lengthAdjust="spacingAndGlyphs" stroke="#000" stroke-width="0.25">0.0</text>
<text x="119.05" y="620.90" font-size="13.8" text-anchor="end" textLength="18.79" lengthAdjust="spacingAndGlyphs" stroke="#000" stroke-width="0.25">0.2</text>
<text x="119.05" y="601.90" font-size="13.8" text-anchor="end" textLength="18.79" lengthAdjust="spacingAndGlyphs" stroke="#000" stroke-width="0.25">0.4</text>
<text x="119.05" y="582.90" font-size="13.8" text-anchor="end" textLength="18.79" lengthAdjust="spacingAndGlyphs" stroke="#000" stroke-width="0.25">0.6</text>
<text x="119.05" y="563.90" font-size="13.8" text-anchor="end" textLength="18.79" lengthAdjust="spacingAndGlyphs" stroke="#000" stroke-width="0.25">0.8</text>
<text x="119.05" y="544.90" font-size="13.8" text-anchor="end" textLength="18.79" lengthAdjust="spacingAndGlyphs" stroke="#000" stroke-width="0.25">1.0</text>
<text x="119.05" y="525.90" font-size="13.8" text-anchor="end" textLength="18.79" lengthAdjust="spacingAndGlyphs" stroke="#000" stroke-width="0.25">1.2</text>
<path d="M120.55,514.45 L124.2,511.5 L124.2,517.4 Z" fill="#ff0000"/>
<path d="M124,514.45H136" stroke="#ff0000" stroke-width="1.15"/>
<rect x="126.8" y="572.6" width="86.70" height="55.80" rx="3.2" ry="3.2" fill="#fff" stroke="#000" stroke-width="1"/>
<path d="M136.0,582.70H153.7" stroke="#21219a" stroke-width="1.3" fill="none"/>
<path d="M136.0,576.10V589.30" stroke="#4040c4" stroke-width="1.1" fill="none"/><path d="M133.25,576.10h5.5M133.25,589.30h5.5" stroke="#4040c4" stroke-width="0.8" fill="none"/>
<circle cx="136.0" cy="582.70" r="2.65" fill="#00008b" stroke="#000" stroke-width="0.7"/>
<path d="M153.7,576.10V589.30" stroke="#4040c4" stroke-width="1.1" fill="none"/><path d="M150.95,576.10h5.5M150.95,589.30h5.5" stroke="#4040c4" stroke-width="0.8" fill="none"/>
<circle cx="153.7" cy="582.70" r="2.65" fill="#00008b" stroke="#000" stroke-width="0.7"/>
<text x="167.40" y="587.30" font-size="13.8" text-anchor="start" textLength="33.50" lengthAdjust="spacingAndGlyphs" stroke="#000" stroke-width="0.25">L = 9</text>
<path d="M136.0,601.00H153.7" stroke="#c7c721" stroke-width="1.3" fill="none"/>
<path d="M136.0,594.40V607.60" stroke="#c4c414" stroke-width="1.1" fill="none"/><path d="M133.25,594.40h5.5M133.25,607.60h5.5" stroke="#c4c414" stroke-width="0.8" fill="none"/>
<circle cx="136.0" cy="601.00" r="2.65" fill="#bfbf00" stroke="#000" stroke-width="0.7"/>
<path d="M153.7,594.40V607.60" stroke="#c4c414" stroke-width="1.1" fill="none"/><path d="M150.95,594.40h5.5M150.95,607.60h5.5" stroke="#c4c414" stroke-width="0.8" fill="none"/>
<circle cx="153.7" cy="601.00" r="2.65" fill="#bfbf00" stroke="#000" stroke-width="0.7"/>
<text x="167.40" y="605.60" font-size="13.8" text-anchor="start" textLength="41.64" lengthAdjust="spacingAndGlyphs" stroke="#000" stroke-width="0.25">L = 15</text>
<path d="M136.0,619.30H153.7" stroke="#ff2121" stroke-width="1.3" fill="none"/>
<path d="M136.0,612.70V625.90" stroke="#ff1414" stroke-width="1.1" fill="none"/><path d="M133.25,612.70h5.5M133.25,625.90h5.5" stroke="#ff1414" stroke-width="0.8" fill="none"/>
<circle cx="136.0" cy="619.30" r="2.65" fill="#ff0000" stroke="#000" stroke-width="0.7"/>
<path d="M153.7,612.70V625.90" stroke="#ff1414" stroke-width="1.1" fill="none"/><path d="M150.95,612.70h5.5M150.95,625.90h5.5" stroke="#ff1414" stroke-width="0.8" fill="none"/>
<circle cx="153.7" cy="619.30" r="2.65" fill="#ff0000" stroke="#000" stroke-width="0.7"/>
<text x="167.40" y="623.90" font-size="13.8" text-anchor="start" textLength="41.64" lengthAdjust="spacingAndGlyphs" stroke="#000" stroke-width="0.25">L = 21</text>
<g transform="translate(89.6,570) rotate(-90)" font-family="'Liberation Serif', serif">
<text x="-41.7" y="0" font-size="14.3" textLength="70.8" lengthAdjust="spacingAndGlyphs">Charge gap,</text>
<text x="30.6" y="0" font-size="15.4" textLength="10" lengthAdjust="spacingAndGlyphs">Δ</text>
<text x="41.7" y="3.9" font-size="10">c</text>
</g>
<g font-family="'Liberation Serif', serif" font-style="italic">
<text x="198.0" y="662.7" font-size="14.1">U</text>
<path d="M209.0,666.0L214.7,652.1" stroke="#000" stroke-width="0.9" fill="none"/>
<text x="214.8" y="662.7" font-size="14.1" textLength="4.8" lengthAdjust="spacingAndGlyphs">t</text>
</g>
</svg>
</body></html>
